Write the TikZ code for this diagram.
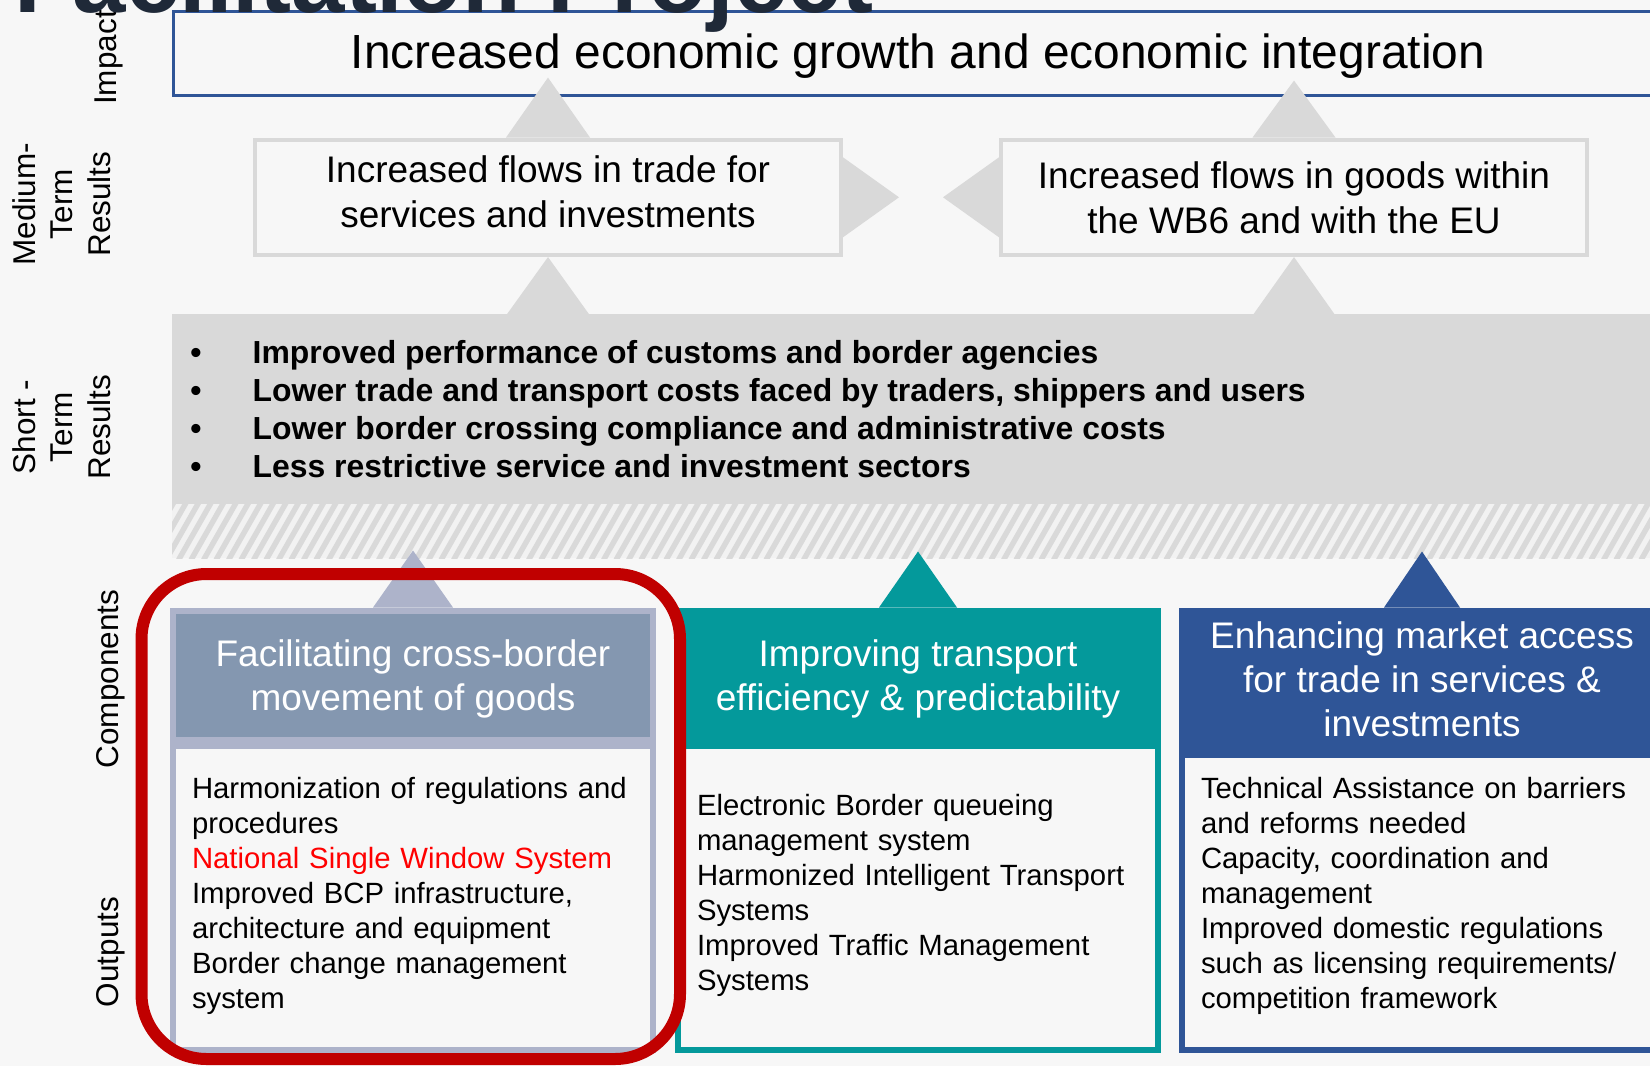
\documentclass[tikz,border=0pt]{standalone}
\usepackage{fontspec}
\setmainfont{Liberation Sans}
\usetikzlibrary{positioning}

\definecolor{bgcol}{RGB}{247,247,247}
\definecolor{greyband}{RGB}{217,217,217}
\definecolor{hatchlight}{RGB}{242,242,242}
\definecolor{compblue}{RGB}{47,85,151}
\definecolor{compteal}{RGB}{4,153,155}
\definecolor{slatehead}{RGB}{132,151,176}
\definecolor{lavender}{RGB}{173,179,202}
\definecolor{redloop}{RGB}{192,0,0}
\definecolor{titlecol}{RGB}{31,41,56}

\newcommand{\pxfont}[2]{\fontsize{#1}{#2}\selectfont}

\tikzset{
  layerlabel/.style={rotate=90, align=center, inner sep=0pt, font=\pxfont{31.5}{37.5}},
  resultbox/.style={draw=greyband, line width=4pt, fill=bgcol, minimum width=586pt,
    minimum height=115.5pt, align=center, inner sep=0pt, font=\pxfont{37}{45}},
  tri/.style={fill=greyband},
  headbox/.style={line width=6pt, minimum width=480pt, align=center, inner sep=0pt,
    text=white, font=\pxfont{37}{44}},
  bodybox/.style={line width=6pt, fill=bgcol, minimum width=480pt, text width=442pt,
    align=left, inner xsep=19pt, inner ysep=0pt, font=\pxfont{29.3}{35}},
  bullettext/.style={font=\bfseries\pxfont{31.9}{38}, inner sep=0pt, anchor=base west},
}

\begin{document}
\begin{tikzpicture}[x=1pt,y=-1pt]
  \useasboundingbox (0,0) rectangle (1650,1066);
  \clip (0,0) rectangle (1650,1066);
  \fill[bgcol] (0,0) rectangle (1650,1066);

  % impact
  \node[draw=compblue, line width=3pt, fill=bgcol, minimum width=1489pt, minimum height=84pt,
    inner sep=0pt, text height=39.5pt, font=\pxfont{47.9}{56}] (impact) at (918,53.7)
    {Increased economic growth and economic integration};

  % medium-term results
  \node[resultbox, text depth=12pt] (mr1) at (548,197.3) {Increased flows in trade for\\services and investments};
  \node[resultbox] (mr2) at (1294,197.3) {Increased flows in goods within\\the WB6 and with the EU};
  \fill[tri] (mr1.north) ++(-42,0) -- ++(42,-60) -- ++(42,60) -- cycle;
  \fill[tri] (mr2.north) ++(-41.5,0) -- ++(41.5,-57) -- ++(41.5,57) -- cycle;
  \fill[tri] (mr1.east) ++(0,-40) -- ++(56,40) -- ++(-56,40) -- cycle;
  \fill[tri] (mr2.west) ++(0,-40) -- ++(-56,40) -- ++(56,40) -- cycle;

  % short-term results
  \node[fill=greyband, minimum width=1493pt, minimum height=190.5pt, inner sep=0pt,
    anchor=north west] (st) at (172,313.5) {};
  \begin{scope}
    \clip (172,504) rectangle (1665,558);
    \fill[hatchlight] (172,504) rectangle (1665,558);
    \foreach \k in {0,...,122}
      \draw[greyband, line width=5.4pt] ({141+\k*12.5},560) -- ++(33,-58);
  \end{scope}
  \fill[tri] (mr1.south) ++(-42,58.5) -- ++(42,-58.5) -- ++(42,58.5) -- cycle;
  \fill[tri] (mr2.south) ++(-41.5,58.5) -- ++(41.5,-58.5) -- ++(41.5,58.5) -- cycle;
  \foreach \txt [count=\i] in {Improved performance of customs and border agencies,
      {Lower trade and transport costs faced by traders, shippers and users},
      Lower border crossing compliance and administrative costs,
      Less restrictive service and investment sectors} {
    \node[bullettext, anchor=base] (sb\i) at (196,{363.3+38.1*(\i-1)}) {\textbullet};
    \node[bullettext] (sl\i) at (252.5,{363.3+38.1*(\i-1)}) {\txt};
  }

  % components and outputs
  \node[headbox, draw=lavender, fill=slatehead, minimum height=129pt, text depth=-2pt] (cah) at (413,675)
    {Facilitating cross-border\\movement of goods};
  \node[bodybox, draw=lavender, minimum height=304.5pt, text height=16.8pt, below=0pt of cah] (cab)
    {Harmonization of regulations and\\procedures\\
     \textcolor{red}{National Single Window System}\\
     Improved BCP infrastructure,\\architecture and equipment\\
     Border change management\\system};
  \fill[lavender] (cah.north) ++(-40,0) -- ++(40,-57) -- ++(40,57) -- cycle;

  \node[headbox, draw=compteal, fill=compteal, minimum height=129pt, text depth=-2pt] (cbh) at (918,675)
    {Improving transport\\efficiency \& predictability};
  \node[bodybox, draw=compteal, minimum height=304.5pt, text height=16.8pt, below=0pt of cbh] (cbb)
    {Electronic Border queueing\\management system\\
     Harmonized Intelligent Transport\\Systems\\
     Improved Traffic Management\\Systems};
  \fill[compteal] (cbh.north) ++(-39,0) -- ++(39,-56) -- ++(39,56) -- cycle;

  \node[headbox, draw=compblue, fill=compblue, minimum height=138pt] (cch) at (1422,679.5)
    {Enhancing market access\\for trade in services \&\\investments};
  \node[bodybox, draw=compblue, minimum height=295.5pt, text height=8.4pt, below=0pt of cch] (ccb)
    {Technical Assistance on barriers\\and reforms needed\\
     Capacity, coordination and\\management\\
     Improved domestic regulations\\such as licensing requirements/\\
     competition framework};
  \fill[compblue] (cch.north) ++(-38,0) -- ++(38,-56) -- ++(38,56) -- cycle;

  \draw[redloop, line width=12pt, rounded corners=65pt] (141.5,574) rectangle (680,1059);

  % layer labels
  \node[layerlabel, anchor=base] (lblimpact) at (116,57.5) {Impact};
  \node[layerlabel] (lblmedium) at (61.5,204) {Medium-\\Term\\Results};
  \node[layerlabel] (lblshort) at (61.5,427) {Short -\\Term\\Results};
  \node[layerlabel, anchor=base] (lblcomp) at (118,679) {Components};
  \node[layerlabel, anchor=base] (lblout) at (118,952) {Outputs};

  % title, cut by the top edge
  \node[anchor=base west, inner sep=0pt, font=\bfseries\pxfont{96}{110}, text=titlecol]
    (title) at (14,12) {Facilitation Project};
\end{tikzpicture}
\end{document}
